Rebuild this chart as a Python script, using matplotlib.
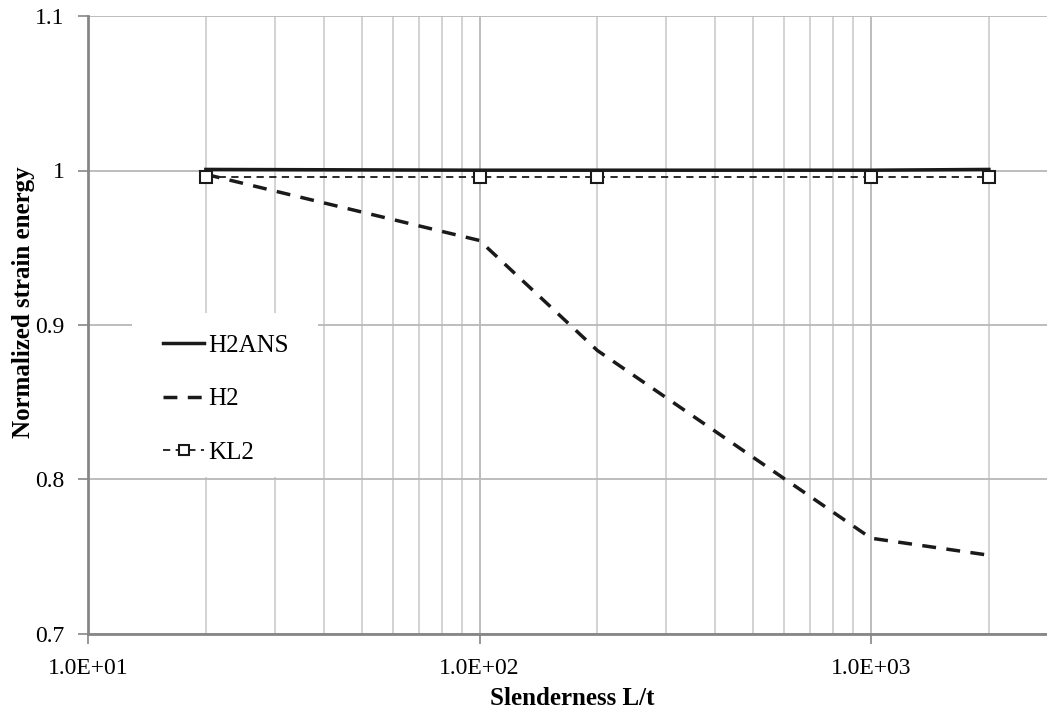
import matplotlib
matplotlib.use("Agg")
import matplotlib.pyplot as plt
from matplotlib.patches import Rectangle
from matplotlib.ticker import FixedLocator, NullFormatter

# slenderness values and normalized strain energy
slenderness = [20, 100, 200, 1000, 2000]
h2ans = [1.0007, 1.0002, 1.0002, 1.0002, 1.0007]
h2 = [0.9975, 0.9547, 0.8835, 0.762, 0.751]
kl2 = [0.9958, 0.9958, 0.9958, 0.9958, 0.9958]

x_ticks = [10, 100, 1000]
x_tick_labels = ["1.0E+01", "1.0E+02", "1.0E+03"]
y_ticks = [0.7, 0.8, 0.9, 1.0, 1.1]
y_tick_labels = ["0.7", "0.8", "0.9", "1", "1.1"]

plt.rcParams['font.family'] = ['Liberation Serif', 'DejaVu Serif']

fig = plt.figure(figsize=(10.47, 7.09), dpi=100)
ax = fig.add_axes([88 / 1047, 75 / 709, 969 / 1047, 618 / 709])

ax.set_xscale('log')
ax.set_xlim(10, 2985)
ax.set_ylim(0.7, 1.1)

# grid: minor + major verticals, horizontals at y ticks
minor = [m * 10 ** e for e in (1, 2, 3) for m in range(2, 10)]
ax.xaxis.set_major_locator(FixedLocator(x_ticks))
ax.xaxis.set_minor_locator(FixedLocator(minor))
ax.xaxis.set_minor_formatter(NullFormatter())
ax.set_xticklabels(x_tick_labels)
ax.set_yticks(y_ticks)
ax.set_yticklabels(y_tick_labels)
ax.grid(True, which='major', color='#b8b8b8', linewidth=1.3)
ax.grid(True, which='minor', axis='x', color='#cccccc', linewidth=1.2)
ax.set_axisbelow(True)

for side in ('top', 'right'):
    ax.spines[side].set_visible(False)
for side in ('left', 'bottom'):
    ax.spines[side].set_color('#868686')
    ax.spines[side].set_linewidth(2)

ax.tick_params(axis='both', which='major', labelsize=17, color='#868686',
               length=7, width=1.2, pad=10)
ax.tick_params(axis='x', which='minor', length=0)

# white legend background hiding the grid
ax.add_patch(Rectangle(((132 - 88) / 969, (634 - 477) / 618),
                       186 / 969, 164 / 618, transform=ax.transAxes,
                       facecolor='white', edgecolor='none', zorder=0.8))

line1, = ax.plot(slenderness, h2ans, color='#1a1a1a', linewidth=2.5, label='H2ANS')
line2, = ax.plot(slenderness, h2, color='#1a1a1a', linewidth=2.5,
                 linestyle=(0, (4, 3)), label='H2')
line3, = ax.plot(slenderness, kl2, color='#1a1a1a', linewidth=1.3,
                 linestyle=(0, (4, 3)), marker='s', markersize=9,
                 markerfacecolor='white', markeredgecolor='#1a1a1a',
                 markeredgewidth=1.5, label='KL2')

leg = ax.legend([line1, line2, line3], ['H2ANS', 'H2', 'KL2'],
                loc='upper left', bbox_to_anchor=((163 - 88) / 969, (634 - 334) / 618),
                frameon=False, fontsize=18, handlelength=1.65,
                handletextpad=0.15, labelspacing=1.25, borderpad=0,
                borderaxespad=0, markerscale=0.75)

ax.set_xlabel('Slenderness L/t', fontsize=18, fontweight='bold', labelpad=6)
ax.set_ylabel('Normalized strain energy', fontsize=18, fontweight='bold')
ax.yaxis.set_label_coords((35 - 88) / 969, (634 - 302) / 618)

fig.savefig('out.png', dpi=100)
